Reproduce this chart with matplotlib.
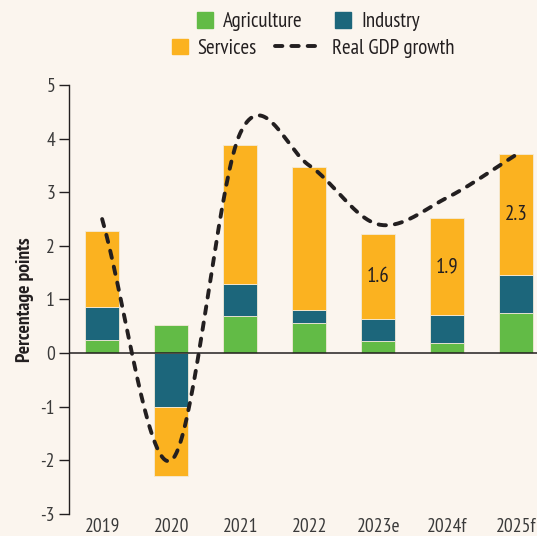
import numpy as np
import matplotlib
matplotlib.use('Agg')
import matplotlib.pyplot as plt
from matplotlib.patches import Patch, Rectangle
from matplotlib.lines import Line2D
from matplotlib.legend_handler import HandlerPatch

years = ['2019', '2020', '2021', '2022', '2023e', '2024f', '2025f']
agriculture = [0.25, 0.53, 0.70, 0.56, 0.22, 0.19, 0.75]
industry = [0.61, -1.00, 0.59, 0.24, 0.41, 0.52, 0.71]
services = [1.42, -1.30, 2.59, 2.67, 1.60, 1.81, 2.25]
services_labels = ['', '', '', '', '1.6', '1.9', '2.3']
gdp_growth = [2.5, -2.0, 4.1, 3.5, 2.4, 2.9, 3.7]

bg = '#FBF5EE'
c_agri = '#62BB46'
c_ind = '#1C667B'
c_serv = '#FBB220'
c_dark = '#231F20'

plt.rcParams['font.family'] = ['PT Sans Narrow', 'DejaVu Sans']

fig = plt.figure(figsize=(5.37, 5.36), dpi=100, facecolor=bg)
ax = fig.add_axes([0.1285, 0.041, 0.8715, 0.8005], facecolor=bg)

x = np.arange(len(years))
w = 0.49
pos = np.zeros(len(years))
neg = np.zeros(len(years))
for vals, col in [(agriculture, c_agri), (industry, c_ind), (services, c_serv)]:
    v = np.array(vals)
    bottom = np.where(v >= 0, pos, neg)
    ax.bar(x, v, w, bottom=bottom, color=col, edgecolor='#F3EAD8', linewidth=0.6, zorder=2)
    pos = pos + np.where(v >= 0, v, 0)
    neg = neg + np.where(v < 0, v, 0)

# value of the services part, written in its middle
for i, lab in enumerate(services_labels):
    if lab:
        mid = pos[i] - services[i] / 2
        ax.text(x[i], mid, lab, ha='center', va='center', fontsize=15, color=c_dark, zorder=4)

# smooth GDP line (Catmull-Rom, like a spreadsheet "smoothed line")
g = np.array(gdp_growth)
n = len(g)
m = np.zeros(n)
m[1:-1] = (g[2:] - g[:-2]) / 2
m[0] = g[1] - g[0]
m[-1] = g[-1] - g[-2]
xs, ys = [], []
for i in range(n - 1):
    t = np.linspace(0, 1, 40)
    h00 = 2 * t**3 - 3 * t**2 + 1
    h10 = t**3 - 2 * t**2 + t
    h01 = -2 * t**3 + 3 * t**2
    h11 = t**3 - t**2
    xs.extend(x[i] + t)
    ys.extend(h00 * g[i] + h10 * m[i] + h01 * g[i + 1] + h11 * m[i + 1])
ax.plot(xs, ys, color=c_dark, lw=2.8, dashes=(1.9, 2.3), dash_capstyle='round', zorder=3)

ax.axhline(0, color=c_dark, lw=1.1, zorder=3)

ax.set_xlim(-0.48, 6.3)
ax.set_ylim(-3, 5)
ax.set_yticks(range(-3, 6))
ax.set_yticklabels([str(v) for v in range(-3, 6)])
ax.set_xticks(x)
ax.set_xticklabels(years)
for s in ['top', 'right', 'bottom']:
    ax.spines[s].set_visible(False)
ax.spines['left'].set_color(c_dark)
ax.spines['left'].set_linewidth(1.0)
ax.tick_params(axis='y', length=7, width=1.0, color=c_dark, labelsize=14, labelcolor='#3A3A3A', pad=3)
ax.tick_params(axis='x', length=0, labelsize=14, labelcolor='#3A3A3A', pad=3)
ax.set_ylabel('Percentage points', fontsize=14, fontweight='bold', color=c_dark, labelpad=5)


def square_right(legend, orig_handle, xdescent, ydescent, width, height, fontsize):
    sq = 0.76 * fontsize
    return Rectangle((width - sq - xdescent, -ydescent + (height - sq) / 2), sq, sq)


hm = {Patch: HandlerPatch(patch_func=square_right)}
h1 = [Patch(color=c_agri, label='Agriculture'), Patch(color=c_ind, label='Industry')]
h2 = [Patch(color=c_serv, label='Services'),
      Line2D([0], [0], color=c_dark, lw=2.8, dashes=(1.9, 2.3), dash_capstyle='round', label='Real GDP growth')]
leg1 = fig.legend(handles=h1, handler_map=hm, loc='center left', bbox_to_anchor=(0.309, 0.959), ncol=2,
                  frameon=False, fontsize=15, handlelength=2.25, borderpad=0, borderaxespad=0,
                  columnspacing=0.05, handletextpad=0.5)
leg2 = fig.legend(handles=h2, handler_map=hm, loc='center left', bbox_to_anchor=(0.263, 0.910), ncol=2,
                  frameon=False, fontsize=15, handlelength=2.25, borderpad=0, borderaxespad=0,
                  columnspacing=0.9, handletextpad=0.45)
for leg in (leg1, leg2):
    for t in leg.get_texts():
        t.set_color(c_dark)

fig.savefig('out.png', dpi=100, facecolor=bg)
